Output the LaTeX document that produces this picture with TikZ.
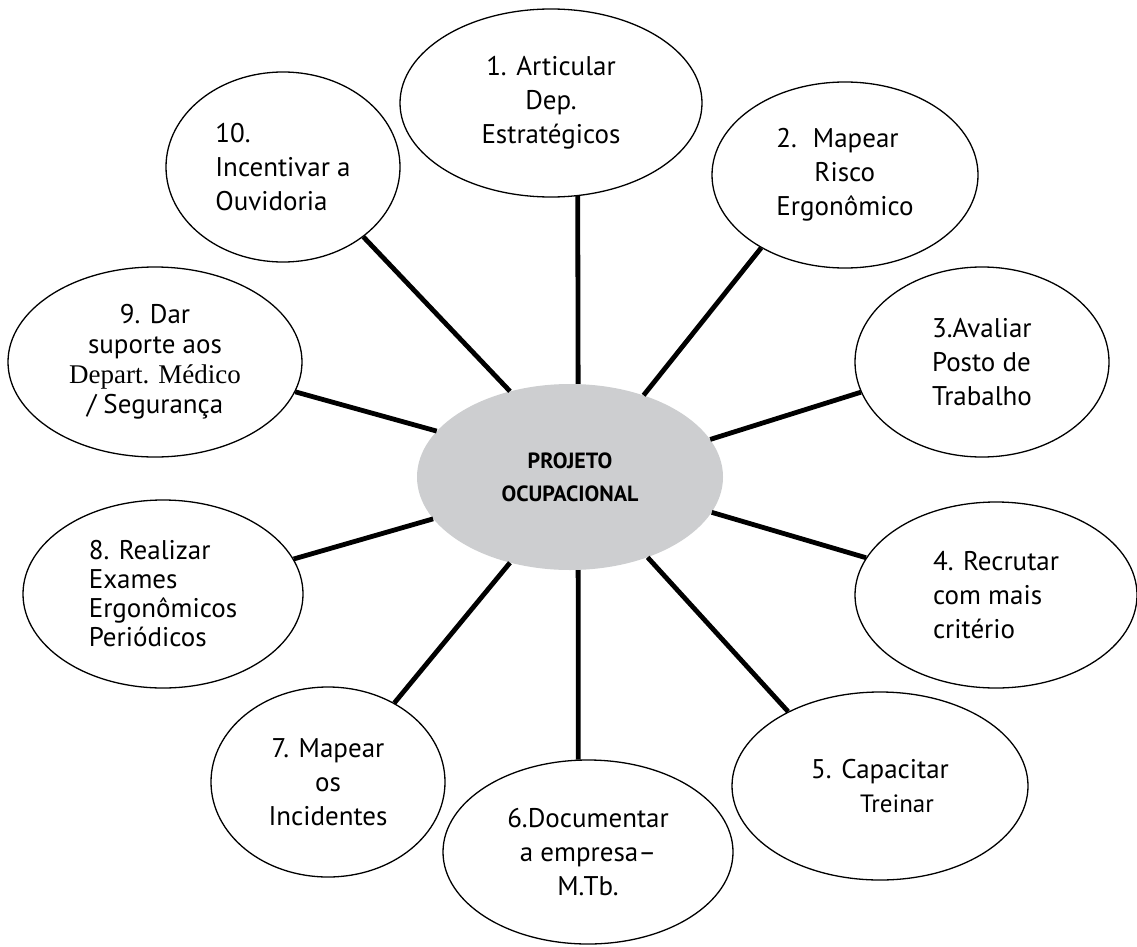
\documentclass[tikz,border=0pt]{standalone}
\usepackage{fontspec}
\setmainfont{PT Sans}
\newfontfamily\timesface{Liberation Serif}
\usetikzlibrary{shapes.geometric}
\definecolor{hubgray}{RGB}{205,206,208}

\begin{document}
\begin{tikzpicture}[x=1pt,y=-1pt,
    every node/.style={inner sep=0pt,font=\fontsize{27}{34}\selectfont},
    bubble/.style={draw=black,line width=1.3pt,ellipse},
    spoke/.style={black,line width=4.8pt}]
    \useasboundingbox (0,0) rectangle (1137,947);
    % hub
    \node[ellipse,fill=hubgray,minimum width=306pt,minimum height=186pt,align=center,
          font=\bfseries\fontsize{22}{33}\selectfont] (c) at (570,477) {PROJETO\\OCUPACIONAL};
    % the ten actions
    \node[bubble,minimum width=302pt,minimum height=188pt,align=center] (e1) at (551,103)
        {1. Articular\\Dep.\\Estratégicos};
    \node[bubble,minimum width=266pt,minimum height=186pt,align=left] (e2) at (845,175)
        {2.\hspace{16pt}Mapear\\\hspace{38pt}Risco\\Ergonômico};
    \node[bubble,minimum width=254pt,minimum height=190pt,align=left] (e3) at (982,362)
        {3.Avaliar\\Posto de\\Trabalho};
    \node[bubble,minimum width=282pt,minimum height=186pt,align=left] (e4) at (996,595)
        {4. Recrutar\\com mais\\critério};
    \node[bubble,minimum width=296pt,minimum height=188pt,align=center] (e5) at (880,786)
        {5. Capacitar\\\hspace{34pt}{\fontsize{25}{34}\selectfont Treinar}};
    \node[bubble,minimum width=290pt,minimum height=184pt,align=center] (e6) at (588,852)
        {6.Documentar\\a empresa–\\M.Tb.};
    \node[bubble,minimum width=234pt,minimum height=190pt,align=center] (e7) at (328,782)
        {7. Mapear\\os\\Incidentes};
    \node[bubble,minimum width=280pt,minimum height=188pt,align=left,
          font=\fontsize{27}{29}\selectfont] (e8) at (163,594)
        {8. Realizar\\Exames\\Ergonômicos\\Periódicos};
    \node[bubble,minimum width=294pt,minimum height=190pt,align=center,
          font=\fontsize{27}{30}\selectfont] (e9) at (155,362)
        {9. Dar\\suporte aos\\{\timesface Depart. Médico}\\/ Segurança};
    \node[bubble,minimum width=234pt,minimum height=190pt,align=left] (e10) at (283,167)
        {10.\\Incentivar a\\Ouvidoria};
    % spokes
    \foreach \n/\a/\b in {e1/85.3/-74, e2/48.7/-139.3, e3/15.9/-166.2, e4/-14.4/164.2,
        e5/-46.5/141, e6/-85.2/96, e7/-125.8/50.1, e8/-163.5/15.6, e9/161.7/-12.5,
        e10/125.2/-41.6}
        \draw[spoke] (c.\a) -- (\n.\b);
\end{tikzpicture}
\end{document}
